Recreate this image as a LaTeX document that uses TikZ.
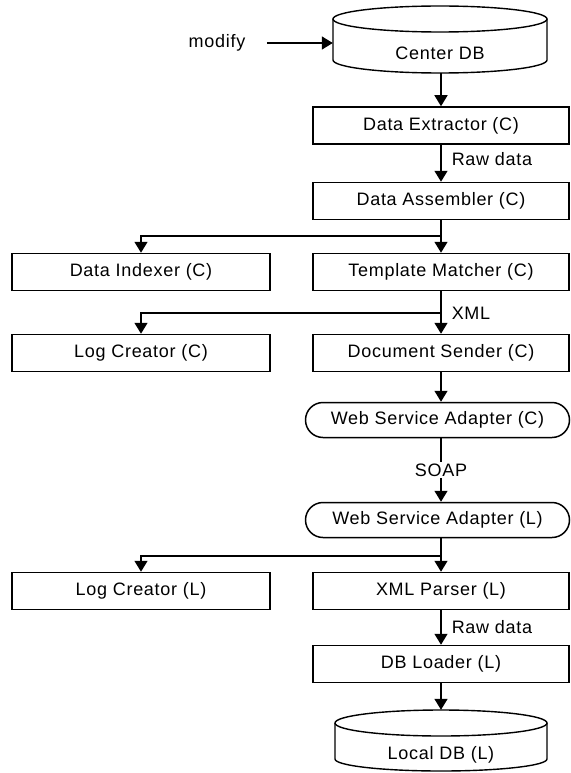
\documentclass[tikz,border=0pt]{standalone}
\usepackage{fontspec}
\setmainfont{Liberation Sans}[LetterSpace=4]
\usetikzlibrary{arrows.meta,shapes.misc}
\begin{document}
\begin{tikzpicture}[x=1pt,y=1pt,
  font=\fontsize{18}{21}\selectfont,
  box/.style={draw, line width=1.5pt, minimum width=256pt, minimum height=37pt, inner sep=0pt},
  lbox/.style={box, minimum width=258pt},
  pill/.style={draw, rounded rectangle, line width=1.5pt, minimum width=264pt, minimum height=35pt, inner sep=0pt},
  arr/.style={line width=1.5pt, -{Triangle[width=13pt,length=11pt]}},
  conn/.style={line width=1.5pt},
  lab/.style={anchor=west, xshift=10pt, inner sep=0pt},
  dbnode/.style={minimum width=214pt, inner sep=0pt},
  dbline/.style={line width=1.4pt}
]
\useasboundingbox (0,0) rectangle (570,-773);

% Center DB cylinder
\node[dbnode, minimum height=68pt] (centerdb) at (440,-39) {};
\draw[dbline] (440,-19) ellipse [x radius=107pt, y radius=13pt];
\draw[dbline] (333,-19) -- (333,-60) arc[start angle=180, end angle=360, x radius=107pt, y radius=13pt] -- (547,-19);
\node (centerdbtext) at (440,-53) {Center DB};

\node (modify) at (217,-43) {modify};
\draw[arr, shorten <=18pt] (modify.east) -- (modify.east -| centerdb.west);

\node[box] (de) at (441,-125.5) {Data Extractor (C)};
\draw[arr] (centerdb.south -| de.north) -- (de.north);

\node[box] (da) at (441,-201) {Data Assembler (C)};
\draw[arr] (de.south) -- (da.north) node[pos=0.4, lab] {Raw data};

\node[lbox] (di) at (141,-272) {Data Indexer (C)};
\node[box] (tm) at (441,-272) {Template Matcher (C)};
\coordinate (b1) at (441,-236);
\draw[conn] (da.south) -- (b1);
\draw[arr] (b1) -- (tm.north);
\draw[arr] (b1) -| (di.north);

\node[lbox] (lcc) at (141,-353) {Log Creator (C)};
\node[box] (ds) at (441,-353) {Document Sender (C)};
\coordinate (b2) at (441,-313);
\draw[conn] (tm.south) -- (b2) node[lab] {XML};
\draw[arr] (b2) -- (ds.north);
\draw[arr] (b2) -| (lcc.north);

\node[pill] (wsac) at (437.5,-420) {Web Service Adapter (C)};
\draw[arr] (ds.south) -- (ds.south |- wsac.north);

\node[pill] (wsal) at (437.5,-520) {Web Service Adapter (L)};
\draw[arr] (wsac.south -| ds.south) -- node[fill=white, inner sep=2pt] (soap) {SOAP} (wsal.north -| ds.south);

\node[lbox] (lcl) at (141,-591) {Log Creator (L)};
\node[box] (xp) at (441,-591) {XML Parser (L)};
\coordinate (b3) at (441,-556);
\draw[conn] (wsal.south -| ds.south) -- (b3);
\draw[arr] (b3) -- (xp.north);
\draw[arr] (b3) -| (lcl.north);

\node[box] (dbl) at (441,-664) {DB Loader (L)};
\draw[arr] (xp.south) -- (dbl.north) node[pos=0.5, lab] {Raw data};

% Local DB cylinder
\node[dbnode, minimum height=62pt] (ldb) at (441,-741) {};
\draw[dbline] (441,-723) ellipse [x radius=106pt, y radius=13pt];
\draw[dbline] (335,-723) -- (335,-759) arc[start angle=180, end angle=360, x radius=106pt, y radius=12pt] -- (547,-723);
\node (ldbtext) at (441,-755) {Local DB (L)};
\draw[arr] (dbl.south) -- (ldb.north);
\end{tikzpicture}
\end{document}
